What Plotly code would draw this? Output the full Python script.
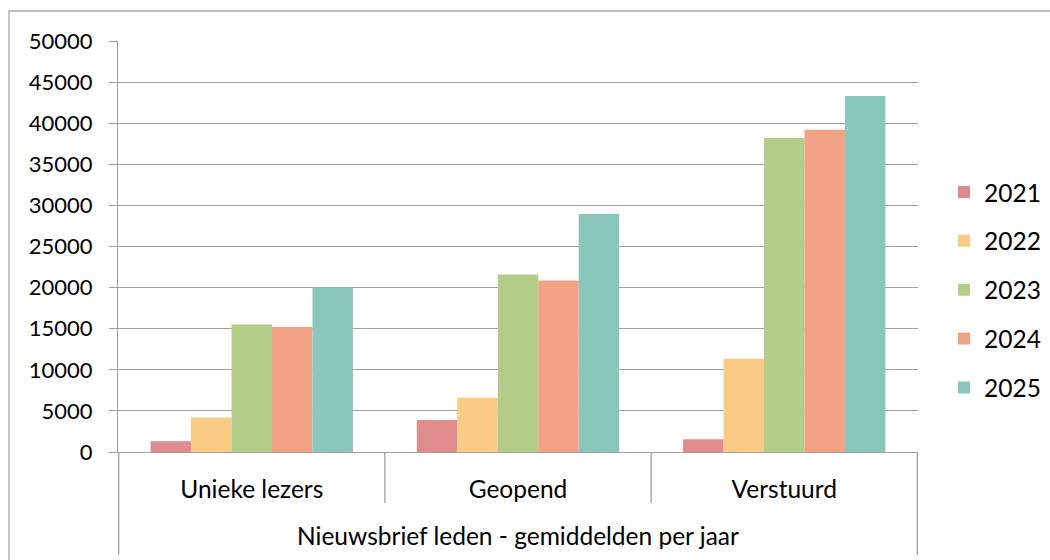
import plotly.graph_objects as go

categories = ["Unieke lezers", "Geopend", "Verstuurd"]
years = ["2021", "2022", "2023", "2024", "2025"]

values_2021 = [1300, 3900, 1550]
values_2022 = [4200, 6600, 11350]
values_2023 = [15500, 21600, 38200]
values_2024 = [15200, 20850, 39200]
values_2025 = [20000, 28950, 43300]

colors = ["#E08B8C", "#F9CB84", "#B3CD89", "#F1A285", "#89C7BA"]
outer_label = "Nieuwsbrief leden - gemiddelden per jaar"

series = [values_2021, values_2022, values_2023, values_2024, values_2025]

fig = go.Figure()
for year, vals, col in zip(years, series, colors):
    fig.add_trace(go.Bar(
        x=categories,
        y=vals,
        name=year,
        legendgroup=year,
        marker=dict(color=col, line=dict(width=0)),
    ))

grid = "#A0A0A0"
font = "Lato, Noto Sans, sans-serif"

fig.update_layout(
    width=1050,
    height=560,
    template="plotly_white",
    plot_bgcolor="white",
    paper_bgcolor="white",
    font=dict(family=font, size=24.5, color="#000000"),
    margin=dict(l=118, r=132, t=41, b=108, autoexpand=False),
    barmode="group",
    bargap=0.24,
    bargroupgap=0,
    showlegend=True,
    legend=dict(
        x=1.0325, y=0.394, xanchor="left", yanchor="middle",
        font=dict(size=24.5),
        tracegroupgap=14,
        bgcolor="rgba(0,0,0,0)",
    ),
)

fig.update_yaxes(
    range=[0, 50000],
    dtick=5000,
    showgrid=True,
    gridcolor=grid,
    gridwidth=1.3,
    zeroline=False,
    showline=True,
    linecolor=grid,
    linewidth=1.3,
    ticks="outside",
    ticklen=8,
    tickcolor=grid,
    tickwidth=1.3,
    tickformat="d",
    tickfont=dict(size=22),
    ticklabelstandoff=12,
)

fig.update_xaxes(
    showgrid=False,
    showline=True,
    linecolor=grid,
    linewidth=1.3,
    ticks="",
    ticklabelstandoff=15,
)

# category dividers below the axis
shapes = []
for pos, depth in [(-0.5, -0.2506), (0.5, -0.124), (1.5, -0.124), (2.5, -0.2506)]:
    shapes.append(dict(
        type="line", xref="x", yref="paper",
        x0=pos, x1=pos, y0=0, y1=depth,
        line=dict(color=grid, width=1.3),
    ))
# chart area border
shapes.append(dict(
    type="rect", xref="paper", yref="paper",
    x0=-0.13625, x1=2, y0=-1, y1=1.073,
    line=dict(color="#A6A6A6", width=1.3),
    fillcolor="rgba(0,0,0,0)",
    layer="below",
))
fig.update_layout(shapes=shapes)

fig.add_annotation(
    text=outer_label,
    xref="paper", yref="paper",
    x=0.5, y=-0.202,
    xanchor="center", yanchor="middle",
    showarrow=False,
    font=dict(size=24.5, family=font),
)

fig.write_html(
    "out.html",
    config={"displayModeBar": False},
    post_script="document.body.style.margin='0';",
)
